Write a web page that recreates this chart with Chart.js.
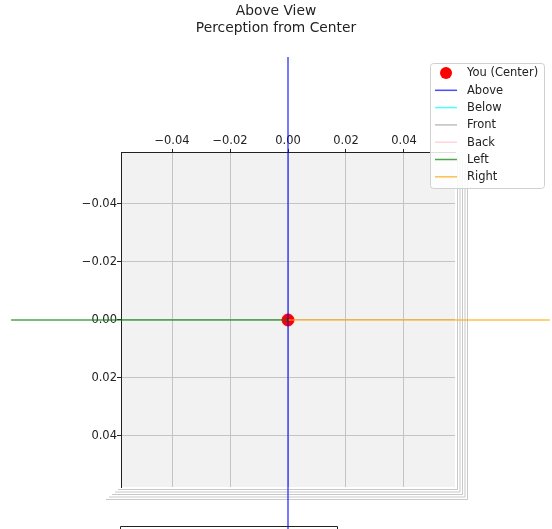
<!DOCTYPE html>
<html>
<head>
<meta charset="utf-8">
<script src="https://cdn.jsdelivr.net/npm/chart.js@4/dist/chart.umd.min.js"></script>
<style>
  html, body { margin:0; padding:0; background:#fff; }
  #wrap { width:552px; height:529px; }
</style>
</head>
<body>
<div id="wrap"><canvas id="view_chart" width="552" height="529"></canvas></div>
<script>
// 값은 그림에서 읽은 추정치
const titleLines = ["Above View", "Perception from Center"];
const xTicks = [-0.04, -0.02, 0.00, 0.02, 0.04];
const yTicks = [-0.04, -0.02, 0.00, 0.02, 0.04];
const axisMin = -0.0576;
const axisMax = 0.0576;

const seriesLabels = ["You (Center)", "Above", "Below", "Front", "Back", "Left", "Right"];
const seriesColors = ["#ff0000", "rgba(0,0,255,0.7)", "rgba(0,255,255,0.7)", "rgba(128,128,128,0.5)",
                      "rgba(255,192,203,0.7)", "rgba(0,128,0,0.7)", "rgba(255,165,0,0.7)"];

const centerX = [0];
const centerY = [0];
const aboveX = [0, 0];
const aboveY = [-0.0907, 0.075];
const belowX = [];
const belowY = [];
const frontX = [];
const frontY = [];
const backX = [];
const backY = [];
const leftX = [-0.0955, 0];
const leftY = [0, 0];
const rightX = [0, 0.0903];
const rightY = [0, 0];

function pts(xs, ys){
    let arr = new Array();
    for(let i=0; i<xs.length; i++){
        arr.push({x:xs[i], y:ys[i]});
    }
    return arr;
}

function fmt(v){
    return v.toFixed(2).replace("-", "\u2212");
}

const font = "'DejaVu Sans', 'Liberation Sans', sans-serif";

// 3D 패널 배경과 깊이 테두리
const panePlugin = {
    id:"pane",
    beforeDraw(chart){
        let c = chart.ctx, a = chart.chartArea;
        c.save();
        c.fillStyle = "#f2f2f2";
        c.fillRect(a.left, a.top, a.right - a.left, a.bottom - a.top);
        c.strokeStyle = "#c8c8c8";
        c.lineWidth = 1;
        for(let i=1; i<=5; i++){
            c.beginPath();
            c.moveTo(a.left - 3*i, a.bottom + 2.5*i);
            c.lineTo(a.right + 2.5*i, a.bottom + 2.5*i);
            c.lineTo(a.right + 2.5*i, a.top + 2.5*i);
            c.stroke();
        }
        c.restore();
    },
    afterDraw(chart){
        let c = chart.ctx, a = chart.chartArea;
        c.save();
        // 아래쪽에 잘린 다음 서브플롯 테두리
        c.strokeStyle = "#222";
        c.lineWidth = 1;
        c.beginPath();
        c.moveTo(a.left - 0.5, chart.height + 1);
        c.lineTo(a.left - 0.5, chart.height - 2.5);
        c.lineTo(337.5, chart.height - 2.5);
        c.lineTo(337.5, chart.height + 1);
        c.stroke();

        // 범례
        let x0 = chart.width - 122, y0 = 63, w = 114, h = 125;
        c.fillStyle = "rgba(255,255,255,0.85)";
        c.strokeStyle = "#d0d0d0";
        c.beginPath();
        c.roundRect(x0 + 0.5, y0 + 0.5, w, h, 3);
        c.fill();
        c.stroke();
        c.font = "11.5px " + font;
        c.textBaseline = "middle";
        c.textAlign = "left";
        let ds = chart.data.datasets;
        for(let i=0; i<ds.length; i++){
            let yy = y0 + 10 + i*17.3;
            if(i == 0){
                c.fillStyle = ds[i].backgroundColor;
                c.beginPath();
                c.arc(x0 + 16, yy, 6, 0, Math.PI*2);
                c.fill();
            } else {
                c.strokeStyle = ds[i].borderColor;
                c.lineWidth = 1.5;
                c.beginPath();
                c.moveTo(x0 + 5, yy);
                c.lineTo(x0 + 27, yy);
                c.stroke();
            }
            c.fillStyle = "#222";
            c.fillText(ds[i].label, x0 + 37, yy + 0.5);
        }
        c.restore();
    }
};

let ctx = document.getElementById("view_chart");
let view_chart = new Chart(ctx, {
    type:"scatter",
    plugins:[panePlugin],
    data:{
        datasets:[
            { label:seriesLabels[0], data:pts(centerX, centerY), backgroundColor:seriesColors[0],
              borderColor:seriesColors[0], pointRadius:6, order:10 },
            { label:seriesLabels[1], data:pts(aboveX, aboveY), borderColor:seriesColors[1], showLine:true,
              borderWidth:1.5, pointRadius:0, clip:false, order:1 },
            { label:seriesLabels[2], data:pts(belowX, belowY), borderColor:seriesColors[2], showLine:true,
              borderWidth:1.5, pointRadius:0, clip:false, order:2 },
            { label:seriesLabels[3], data:pts(frontX, frontY), borderColor:seriesColors[3], showLine:true,
              borderWidth:1.5, pointRadius:0, clip:false, order:2 },
            { label:seriesLabels[4], data:pts(backX, backY), borderColor:seriesColors[4], showLine:true,
              borderWidth:1.5, pointRadius:0, clip:false, order:2 },
            { label:seriesLabels[5], data:pts(leftX, leftY), borderColor:seriesColors[5], showLine:true,
              borderWidth:1.5, pointRadius:0, clip:false, order:1 },
            { label:seriesLabels[6], data:pts(rightX, rightY), borderColor:seriesColors[6], showLine:true,
              borderWidth:1.5, pointRadius:0, clip:false, order:1 }
        ]
    },
    options:{
        responsive:false,
        animation:false,
        layout:{ padding:{ left:0, right:0, top:0, bottom:42 } },
        plugins:{
            legend:{ display:false },
            tooltip:{ enabled:false },
            title:{
                display:true,
                text:titleLines,
                color:"#222",
                font:{ family:font, size:13.8, weight:"normal", lineHeight:1.23 },
                padding:{ top:2.5, bottom:0 }
            }
        },
        scales:{
            x:{
                type:"linear",
                position:"top",
                min:axisMin,
                max:axisMax,
                afterBuildTicks:function(axis){
                    axis.ticks = xTicks.map(v => ({value:v}));
                },
                afterFit:function(axis){
                    axis.height = 153 - 36.5;
                },
                ticks:{ color:"#222", font:{ family:font, size:11.5 }, padding:1, maxRotation:0,
                        callback:function(v){ return fmt(v); } },
                grid:{ color:"#c4c4c4", lineWidth:1, tickLength:4, tickColor:"#222" },
                border:{ display:true, color:"#222", width:1 }
            },
            y:{
                type:"linear",
                reverse:true,
                min:axisMin,
                max:axisMax,
                afterBuildTicks:function(axis){
                    axis.ticks = yTicks.map(v => ({value:v}));
                },
                afterFit:function(axis){
                    axis.width = 121;
                },
                ticks:{ color:"#222", font:{ family:font, size:11.5 }, padding:0,
                        callback:function(v){ return fmt(v); } },
                grid:{ color:"#c4c4c4", lineWidth:1, tickLength:4, tickColor:"#222" },
                border:{ display:true, color:"#222", width:1 }
            },
            // 오른쪽 여백용 빈 축
            yRight:{
                type:"linear",
                position:"right",
                min:axisMin,
                max:axisMax,
                afterFit:function(axis){
                    axis.width = 97;
                },
                ticks:{ display:false },
                grid:{ drawOnChartArea:false, drawTicks:false, display:false },
                border:{ display:false }
            }
        }
    }
});
</script>
</body>
</html>
